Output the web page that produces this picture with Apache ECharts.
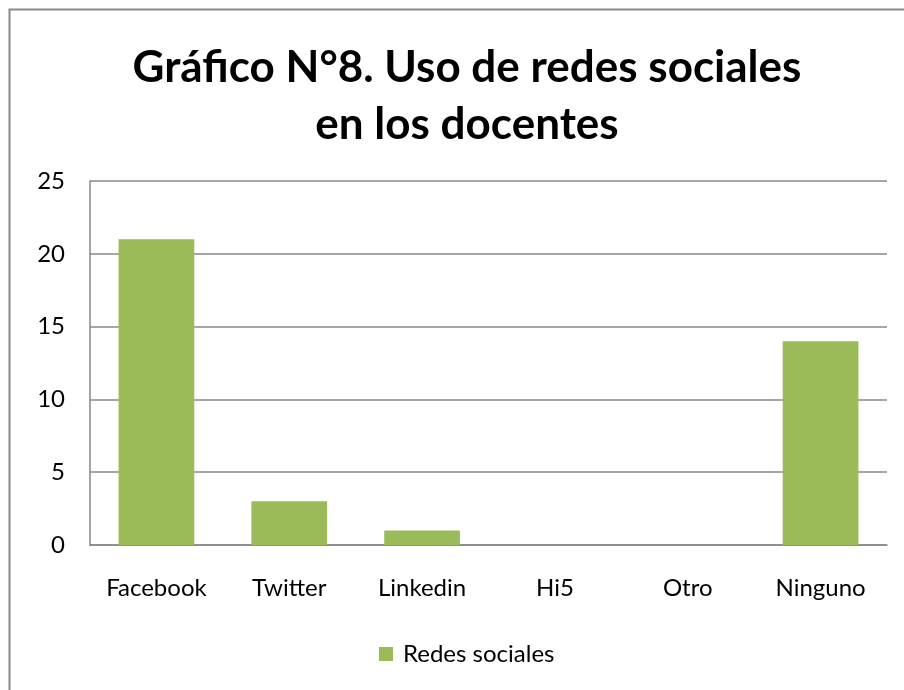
<!DOCTYPE html>
<html>
<head>
<meta charset="utf-8">
<script src="https://cdn.jsdelivr.net/npm/echarts@6/dist/echarts.min.js"></script>
<style>
  html, body { margin: 0; padding: 0; background: #fff; }
  #chart { width: 904px; height: 690px; }
</style>
</head>
<body>
<div id="chart"></div>
<script>
// datos
const categories = ['Facebook', 'Twitter', 'Linkedin', 'Hi5', 'Otro', 'Ninguno']
const values = [21, 3, 1, 0, 0, 14]
const seriesName = 'Redes sociales'
const yTicks = [0, 5, 10, 15, 20, 25]

const font = 'Lato, "Open Sans", sans-serif'
const myChart = echarts.init(document.getElementById('chart'))

myChart.setOption({
  animation: false,
  title: {
    text: 'Gráfico N°8. Uso de redes sociales\nen los docentes',
    left: 462,
    top: 34,
    textAlign: 'center',
    textStyle: {
      fontFamily: font,
      fontWeight: 'bold',
      fontSize: 44,
      lineHeight: 57,
      color: '#000'
    }
  },
  graphic: [{
    type: 'rect',
    shape: { x: 9.5, y: 9.5, width: 1000, height: 1000 },
    style: { fill: null, stroke: '#888', lineWidth: 2 }
  }],
  legend: {
    data: [seriesName],
    bottom: 19,
    left: 374,
    icon: 'rect',
    itemWidth: 14,
    itemHeight: 14,
    itemGap: 8,
    textStyle: { fontFamily: font, fontSize: 24, color: '#000', padding: [0, 0, 0, 5] }
  },
  grid: { left: 90, right: 17, top: 181, bottom: 145 },
  xAxis: {
    type: 'category',
    data: categories,
    axisLine: { lineStyle: { color: '#888', width: 1.5 } },
    axisTick: { show: false },
    axisLabel: { fontFamily: font, fontSize: 24, color: '#000', margin: 31 }
  },
  yAxis: {
    type: 'value',
    min: yTicks[0],
    max: yTicks[yTicks.length - 1],
    interval: 5,
    axisLine: { show: true, lineStyle: { color: '#888', width: 1.5 } },
    axisTick: { show: false },
    splitLine: { lineStyle: { color: '#888', width: 1.5 } },
    axisLabel: { fontFamily: font, fontSize: 24, color: '#000', margin: 25 }
  },
  series: [{
    name: seriesName,
    type: 'bar',
    data: values,
    barWidth: '57%',
    itemStyle: { color: '#9BBB59' }
  }]
})
</script>
</body>
</html>
